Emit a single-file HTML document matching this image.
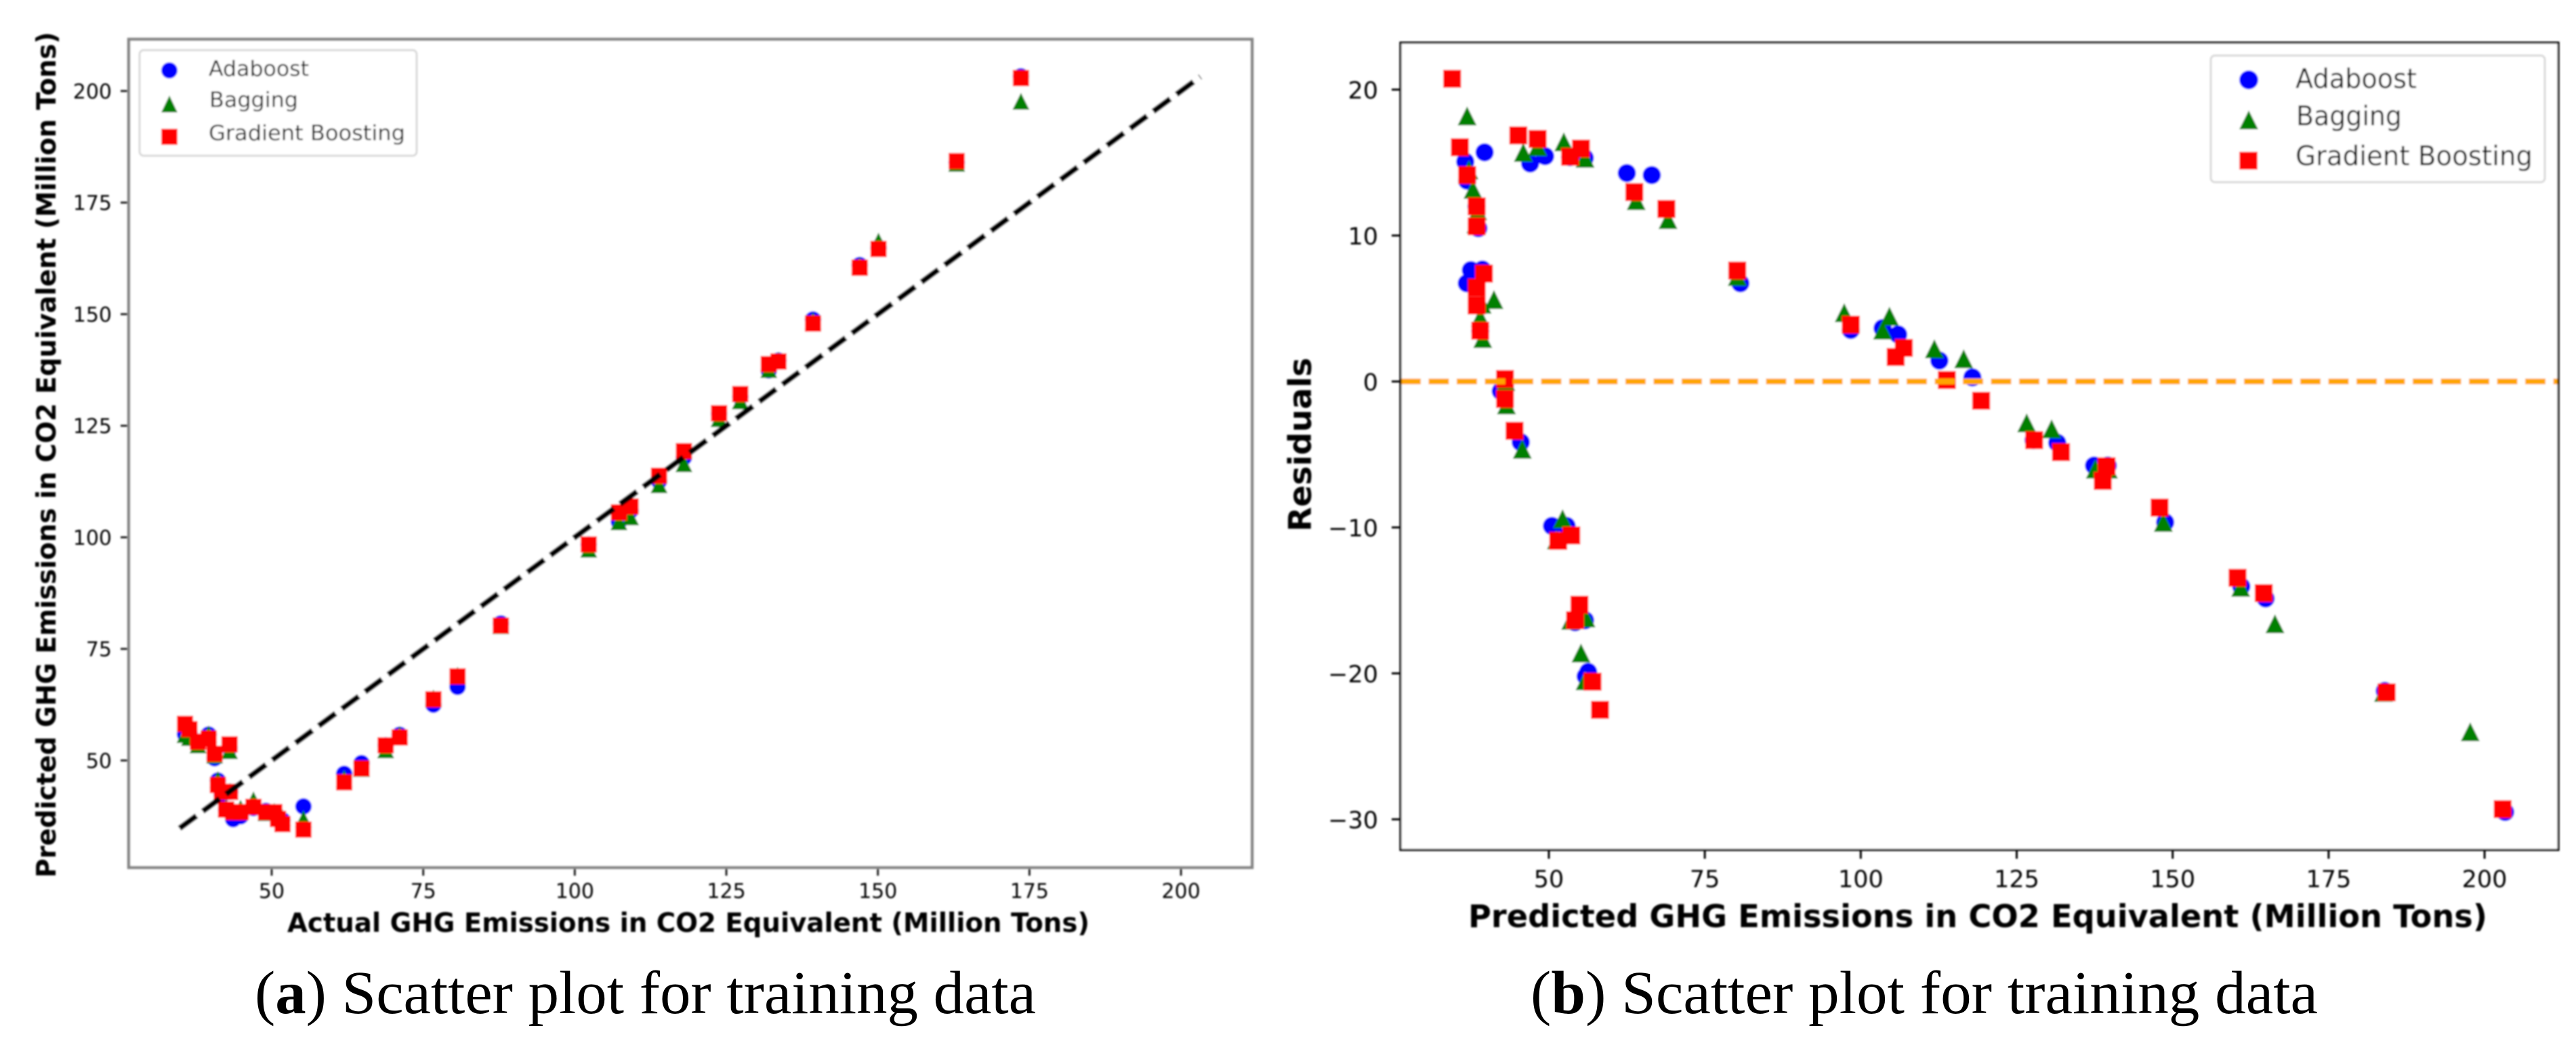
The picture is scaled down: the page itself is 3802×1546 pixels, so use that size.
<!DOCTYPE html>
<html lang="en">
<head>
<meta charset="utf-8">
<title>Scatter plots for training data</title>
<style>
html,body{margin:0;padding:0;background:#fff;width:3802px;height:1546px;overflow:hidden}
svg{display:block;position:absolute;left:0;top:0}
text{fill:#000}
.sans{font-family:"DejaVu Sans","Liberation Sans",sans-serif}
.serif{font-family:"Liberation Serif",serif}
</style>
</head>
<body>
<svg id="figure" xmlns="http://www.w3.org/2000/svg" width="3802" height="1546" viewBox="0 0 3802 1546">
  <defs>
    <filter id="soft" x="-5%" y="-5%" width="110%" height="110%"><feGaussianBlur stdDeviation="1.2"/></filter>
  </defs>
  <g id="panelA" filter="url(#soft)">
    <rect x="190" y="58" width="1658" height="1223" fill="#fff"/>
    <g id="marksA"></g>
    <g id="ticksA"></g>
    <rect x="190" y="58" width="1658" height="1223" fill="none" stroke="#858585" stroke-width="4.500"/>
    <text class="sans" x="424" y="1376" font-size="39" font-weight="700" textLength="1184" lengthAdjust="spacingAndGlyphs">Actual GHG Emissions in CO2 Equivalent (Million Tons)</text>
    <text class="sans" transform="translate(82 1296) rotate(-90)" font-size="39" font-weight="700" textLength="1249" lengthAdjust="spacingAndGlyphs">Predicted GHG Emissions in CO2 Equivalent (Million Tons)</text>
    <g>
      <rect x="206" y="74" width="409" height="156" rx="6" fill="#fff" stroke="#d8d8d8" stroke-width="3"/>
      <circle cx="250" cy="104" r="12" fill="#0000ff"/>
      <polygon points="250,141 262,166 238,166" fill="#008000"/>
      <rect x="238" y="190" width="24" height="24" fill="#ff0000"/>
      <text class="sans" x="308" y="112" font-size="31" textLength="148" lengthAdjust="spacingAndGlyphs">Adaboost</text>
      <text class="sans" x="309" y="158" font-size="31" textLength="131" lengthAdjust="spacingAndGlyphs">Bagging</text>
      <text class="sans" x="308" y="207" font-size="31" textLength="290" lengthAdjust="spacingAndGlyphs">Gradient Boosting</text>
    </g>
  </g>
  <g id="panelB" filter="url(#soft)">
    <rect x="2067" y="63" width="1709" height="1192" fill="#fff"/>
    <g id="marksB"></g>
    <g id="ticksB"></g>
    <rect x="2067" y="63" width="1709" height="1192" fill="none" stroke="#000" stroke-width="3.200"/>
    <text class="sans" x="2167" y="1369" font-size="46" font-weight="700" textLength="1504" lengthAdjust="spacingAndGlyphs">Predicted GHG Emissions in CO2 Equivalent (Million Tons)</text>
    <text class="sans" transform="translate(1935 785) rotate(-90)" font-size="46" font-weight="700" textLength="257" lengthAdjust="spacingAndGlyphs">Residuals</text>
    <g>
      <rect x="3263" y="82" width="493" height="187" rx="6" fill="#fff" stroke="#d8d8d8" stroke-width="3"/>
      <circle cx="3319" cy="118" r="14" fill="#0000ff"/>
      <polygon points="3319,163 3333,191 3305,191" fill="#008000"/>
      <rect x="3305" y="224" width="27" height="26.500" fill="#ff0000"/>
      <text class="sans" x="3388" y="130" font-size="40" textLength="179" lengthAdjust="spacingAndGlyphs">Adaboost</text>
      <text class="sans" x="3389" y="185" font-size="40" textLength="156" lengthAdjust="spacingAndGlyphs">Bagging</text>
      <text class="sans" x="3388" y="244" font-size="40" textLength="350" lengthAdjust="spacingAndGlyphs">Gradient Boosting</text>
    </g>
  </g>
  <text class="serif" x="376" y="1496" font-size="90" textLength="1153" lengthAdjust="spacingAndGlyphs">(<tspan font-weight="700">a</tspan>) Scatter plot for training data</text>
  <text class="serif" x="2259" y="1496" font-size="90" textLength="1162" lengthAdjust="spacingAndGlyphs">(<tspan font-weight="700">b</tspan>) Scatter plot for training data</text>
</svg>
<script>
// Panel (a) data: actual vs. predicted emissions
const actualValues = [35.7,36.43,37.84,39.6,40.58,41.12,41.77,42.48,43.05,43.14,43.64,44.87,46.99,49.06,50.43,51.04,51.78,55.24,61.96,64.82,68.8,71.11,76.68,80.66,87.8,102.3,107.28,109.2,113.9,118,123.8,127.3,132,133.6,139.3,147,150.1,163,173.6];
const adaboostPredicted = [55.9,56.3,54.2,55.8,50.5,45.5,42.3,39,52.85,42.97,36.85,37.5,39.35,38.7,38.4,36.9,36.6,39.7,47,49.4,53.4,55.75,62.5,66.5,80.7,98.4,103.5,106,112.6,117.9,127.7,131.5,137.4,139.6,148.8,161,164.9,184,203.3];
const baggingPredicted = [55.8,55.15,53.5,55.95,51.2,45.74,43.2,39.4,52.2,43.1,39,39.3,41.2,38.3,38.6,37.84,37.2,36.9,45.9,48.2,52.4,55.8,64,69.1,80.2,97.35,103.5,104.6,111.8,116.5,126.6,130.6,137.6,139.7,148.5,160.9,166.4,183.8,197.7];
const gradientPredicted = [58.2,57,54.2,54.9,51.5,44.5,42.97,39,53.6,42.97,38.43,38.43,39.6,38.43,38.43,36.9,35.73,34.5,45.1,48.2,53.4,55.15,63.7,68.84,80.2,98.4,105.6,106.9,113.8,119.3,127.8,132.1,138.8,139.4,147.9,160.4,164.6,184.3,202.9];
// Panel (b) data: residuals for each series
const adaboostResiduals = [-20.2,-19.9,-16.5,-16.36,-9.9,-4.16,-0.66,3.46,-9.9,-0.14,6.73,7.63,7.67,10.5,12,13.76,15.06,15.7,14.94,15.44,15.37,15.32,14.28,14.14,6.73,3.53,3.65,3.22,1.43,0.28,-4.02,-4.2,-5.76,-5.76,-9.65,-14.04,-14.87,-21.2,-29.5];
const baggingResiduals = [-20.5,-18.6,-16.36,-16.2,-10.85,-4.64,-1.6,2.95,-9.4,0,4.4,5.3,5.62,10.8,11.7,13.17,14.5,18.2,15.7,16.1,16.43,15.3,12.4,11.1,7.2,4.72,3.53,4.48,2.25,1.56,-2.83,-3.24,-6,-6,-9.65,-14.1,-16.6,-21.3,-24];
const gradientResiduals = [-22.5,-20.57,-16.36,-15.3,-10.92,-3.38,-1.2,3.48,-10.55,0.17,5.21,6.44,7.39,10.63,12,14.14,16.05,20.74,16.86,16.62,15.4,15.96,12.98,11.82,7.6,3.89,1.68,2.3,0.1,-1.32,-4.02,-4.84,-6.81,-5.81,-8.64,-13.45,-14.5,-21.3,-29.3];
// Reference lines and axis ticks
const identityRange = [34.8,203.2];
const zeroResidual = [0];
const xTicksA = [50,75,100,125,150,175,200];
const yTicksA = [50,75,100,125,150,175,200];
const xTicksB = [50,75,100,125,150,175,200];
const yTicksB = [-30,-20,-10,0,10,20];

const NS = 'http://www.w3.org/2000/svg';
const xA = v => 401 + (v - 50) * 8.947;
const yA = v => 134.4 + (200 - v) * 6.59;
const xB = v => 2286 + (v - 50) * 9.207;
const yB = v => 563.3 - v * 21.55;

function make(tag, attrs, parent) {
  const el = document.createElementNS(NS, tag);
  for (const k in attrs) el.setAttribute(k, attrs[k]);
  parent.appendChild(el);
  return el;
}
function marker(kind, cx, cy, s, parent) {
  if (kind === 'circle') return make('circle', {cx: cx, cy: cy, r: s / 2, fill: '#0000ff'}, parent);
  if (kind === 'triangle') return make('polygon', {points: `${cx},${cy - s / 2} ${cx + s / 2},${cy + s / 2} ${cx - s / 2},${cy + s / 2}`, fill: '#008000'}, parent);
  return make('rect', {x: cx - s / 2, y: cy - s / 2, width: s, height: s, fill: '#ff0000'}, parent);
}
function label(v) { return String(v).replace('-', '\u2212'); }

const marksA = document.getElementById('marksA');
const marksB = document.getElementById('marksB');
const ticksA = document.getElementById('ticksA');
const ticksB = document.getElementById('ticksB');

// Panel (a) series
actualValues.forEach((a, i) => {
  const el = marker('circle', xA(a), yA(adaboostPredicted[i]), 24.5, marksA);
  
  
});
actualValues.forEach((a, i) => {
  const el = marker('triangle', xA(a), yA(baggingPredicted[i]), 25, marksA);
  
  
});
actualValues.forEach((a, i) => {
  const el = marker('square', xA(a), yA(gradientPredicted[i]), 24, marksA);
  
  
});
const identityLine = make('line', {x1: xA(identityRange[0]), y1: yA(identityRange[0]), x2: xA(identityRange[1]), y2: yA(identityRange[1]), stroke: '#000', 'stroke-width': 8.5, 'stroke-dasharray': '31 11.5'}, marksA);



// Panel (b) series
adaboostPredicted.forEach((p, i) => {
  const el = marker('circle', xB(p), yB(adaboostResiduals[i]), 27, marksB);
  
  
});
baggingPredicted.forEach((p, i) => {
  const el = marker('triangle', xB(p), yB(baggingResiduals[i]), 28, marksB);
  
  
});
gradientPredicted.forEach((p, i) => {
  const el = marker('square', xB(p), yB(gradientResiduals[i]), 26.5, marksB);
  
  
});
const zeroLine = make('line', {x1: 2067, y1: yB(zeroResidual[0]), x2: 3776, y2: yB(zeroResidual[0]), stroke: '#ffa500', 'stroke-width': 8.5, 'stroke-dasharray': '30 11.5'}, marksB);



// Panel (a) ticks
xTicksA.forEach(v => {
  const t = make('line', {x1: xA(v), x2: xA(v), y1: 1281, y2: 1293, stroke: '#222', 'stroke-width': 3}, ticksA);
  
  
  const l = make('text', {x: xA(v), y: 1326, 'font-size': 30, 'text-anchor': 'middle', class: 'sans'}, ticksA);
  l.textContent = label(v);
  
  
});
yTicksA.forEach(v => {
  const t = make('line', {x1: 178, x2: 190, y1: yA(v), y2: yA(v), stroke: '#222', 'stroke-width': 3}, ticksA);
  
  
  const l = make('text', {x: 165, y: yA(v) + 11, 'font-size': 30, 'text-anchor': 'end', class: 'sans'}, ticksA);
  l.textContent = label(v);
  
  
});

// Panel (b) ticks
xTicksB.forEach(v => {
  const t = make('line', {x1: xB(v), x2: xB(v), y1: 1255, y2: 1268, stroke: '#000', 'stroke-width': 3}, ticksB);
  
  
  const l = make('text', {x: xB(v), y: 1310, 'font-size': 35, 'text-anchor': 'middle', class: 'sans'}, ticksB);
  l.textContent = label(v);
  
  
});
yTicksB.forEach(v => {
  const t = make('line', {x1: 2054, x2: 2067, y1: yB(v), y2: yB(v), stroke: '#000', 'stroke-width': 3}, ticksB);
  
  
  const l = make('text', {x: 2034, y: yB(v) + 13, 'font-size': 35, 'text-anchor': 'end', class: 'sans'}, ticksB);
  l.textContent = label(v);
  
  
});
</script>
</body>
</html>
